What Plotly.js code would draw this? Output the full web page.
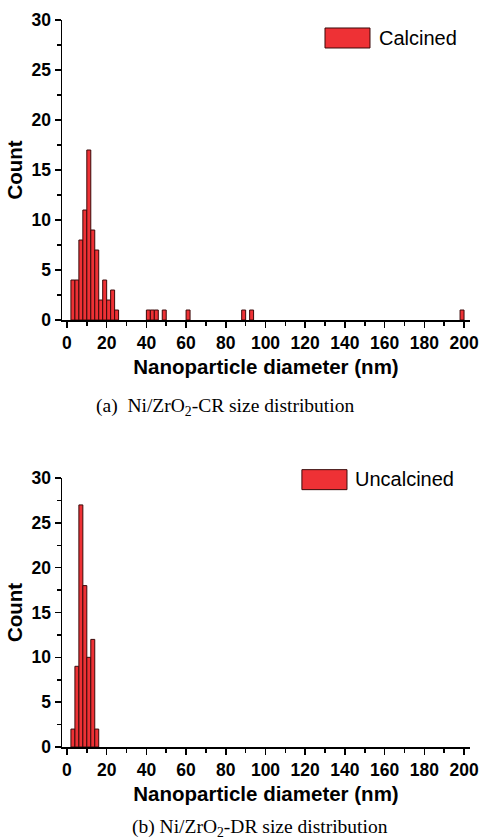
<!DOCTYPE html>
<html>
<head>
<meta charset="utf-8">
<script src="https://cdn.plot.ly/plotly-3.0.1.min.js"></script>
<style>html,body{margin:0;padding:0;background:#fff;}#chart{width:482px;height:839px;}</style>
</head>
<body>
<div id="chart"></div>
<script>
// Panel (a): calcined, bin left edges (nm) and counts (bin width 2 nm)
var binStartsA = [2, 4, 6, 8, 10, 12, 14, 16, 18, 20, 22, 24, 40, 42, 44, 48, 60, 88, 92, 198];
var countsA    = [4, 4, 8, 11, 17, 9, 7, 2, 4, 2, 3, 1, 1, 1, 1, 1, 1, 1, 1, 1];
// Panel (b): uncalcined
var binStartsB = [2, 4, 6, 8, 10, 12, 14];
var countsB    = [2, 9, 27, 18, 10, 12, 2];
var binWidth = 2;
var seriesNames = ["Calcined", "Uncalcined"];
var captions = ["(a)  Ni/ZrO<sub>2</sub>-CR size distribution", "(b) Ni/ZrO<sub>2</sub>-DR size distribution"];
var xTitle = "Nanoparticle diameter (nm)";
var yTitle = "Count";

var barColor = "#ee3135";
var lineCol = "#3a0a0a";

function barTrace(xs, ys, name, xa, ya) {
  return {
    type: "bar", x: xs, y: ys, name: name, xaxis: xa, yaxis: ya,
    width: binWidth, offset: 0,
    marker: {color: barColor, line: {color: lineCol, width: 1}},
    showlegend: false, hoverinfo: "x+y"
  };
}

var tickFont = {family: "Liberation Sans, Arial, sans-serif", size: 17.5, color: "#000", weight: "bold"};
var titleFont = {family: "Liberation Sans, Arial, sans-serif", size: 20.5, color: "#000", weight: "bold"};

function xAxis(anchor) {
  return {
    anchor: anchor, range: [-2.5, 203], dtick: 20, tick0: 0,
    showline: true, linecolor: "#000", linewidth: 1.5, mirror: false,
    ticks: "outside", ticklen: 6, tickwidth: 1.5, tickcolor: "#000",
    minor: {dtick: 10, ticks: "outside", ticklen: 4, tickwidth: 1.5, tickcolor: "#000"},
    showgrid: false, zeroline: false, tickfont: tickFont,
    title: {text: xTitle, font: titleFont, standoff: 8}
  };
}
function yAxis(anchor, domain) {
  return {
    anchor: anchor, domain: domain, range: [0, 30], dtick: 5, tick0: 0,
    showline: true, linecolor: "#000", linewidth: 1.5,
    ticks: "outside", ticklen: 6, tickwidth: 1.5, tickcolor: "#000",
    minor: {dtick: 2.5, ticks: "outside", ticklen: 4, tickwidth: 1.5, tickcolor: "#000"},
    showgrid: false, zeroline: false, tickfont: tickFont,
    title: {text: yTitle, font: titleFont, standoff: 3}
  };
}

var data = [
  barTrace(binStartsA, countsA, seriesNames[0], "x", "y"),
  barTrace(binStartsB, countsB, seriesNames[1], "x2", "y2")
];

var legFont = {family: "Liberation Sans, Arial, sans-serif", size: 20, color: "#000"};
var capFont = {family: "Liberation Serif, Times New Roman, serif", size: 19.5, color: "#000"};

var layout = {
  width: 482, height: 839,
  margin: {l: 62, r: 12, t: 20, b: 92},
  paper_bgcolor: "#fff", plot_bgcolor: "#fff",
  bargap: 0,
  xaxis: xAxis("y"),
  yaxis: yAxis("x", [0.5873, 1]),
  xaxis2: xAxis("y2"),
  yaxis2: yAxis("x2", [0, 0.370]),
  shapes: [
    {type: "rect", xref: "paper", yref: "paper", x0: 0.6446, x1: 0.7549, y0: 0.9615, y1: 0.989,
     fillcolor: barColor, line: {color: lineCol, width: 1}},
    {type: "rect", xref: "paper", yref: "paper", x0: 0.588, x1: 0.6985, y0: 0.354, y1: 0.3815,
     fillcolor: barColor, line: {color: lineCol, width: 1}}
  ],
  annotations: [
    {xref: "paper", yref: "paper", x: 0.772, y: 0.975, xanchor: "left", yanchor: "middle",
     text: seriesNames[0], showarrow: false, font: legFont},
    {xref: "paper", yref: "paper", x: 0.713, y: 0.368, xanchor: "left", yanchor: "middle",
     text: seriesNames[1], showarrow: false, font: legFont},
    {xref: "paper", yref: "paper", x: 0.078, y: 0.4677, xanchor: "left", yanchor: "middle",
     text: captions[0], showarrow: false, font: capFont},
    {xref: "paper", yref: "paper", x: 0.1666, y: -0.1114, xanchor: "left", yanchor: "middle",
     text: captions[1], showarrow: false, font: capFont}
  ]
};

Plotly.newPlot("chart", data, layout, {displayModeBar: false, staticPlot: true});
</script>
</body>
</html>
